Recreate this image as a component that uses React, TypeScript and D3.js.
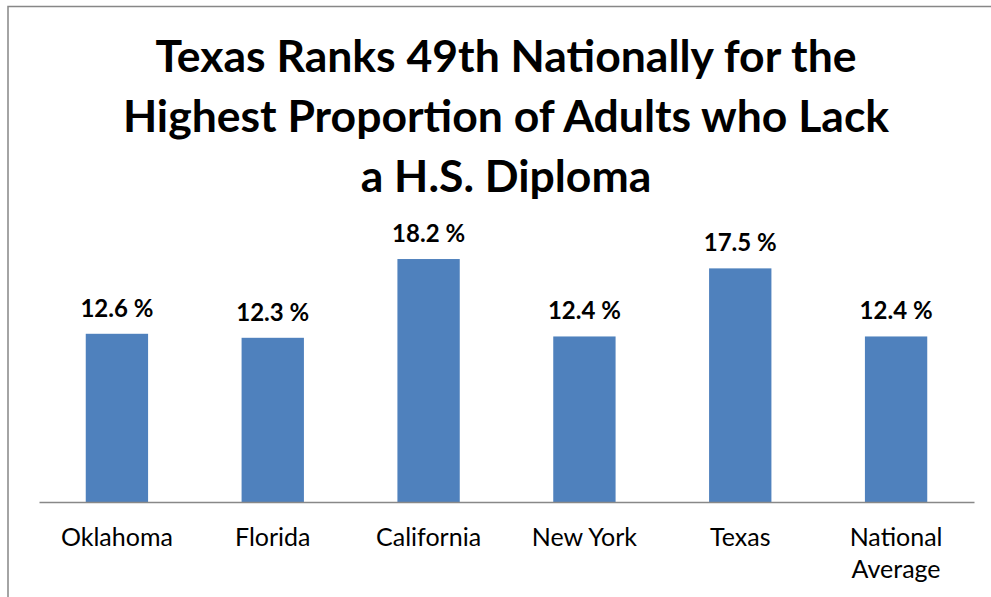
import React, { useEffect, useRef } from "react";
import * as d3 from "d3";

const categories = ["Oklahoma", "Florida", "California", "New York", "Texas", "National Average"];
const values = [12.6, 12.3, 18.2, 12.4, 17.5, 12.4];
const titleLines = [
  "Texas Ranks 49th Nationally for the",
  "Highest Proportion of Adults who Lack",
  "a H.S. Diploma",
];

const width = 991;
const height = 597;
const margin = { top: 235, right: 17, bottom: 95, left: 39 };
const font = "Lato, Carlito, Calibri, sans-serif";

const App = () => {
  const svgRef = useRef<SVGSVGElement>(null);

  useEffect(() => {
    const svg = d3.select(svgRef.current);
    svg.selectAll("*").remove();

    const x = d3
      .scaleBand()
      .domain(categories)
      .range([margin.left, width - margin.right])
      .paddingInner(0.6)
      .paddingOuter(0.3);

    const y = d3
      .scaleLinear()
      .domain([0, 20])
      .range([height - margin.bottom, margin.top]);

    // chart frame (cropped on right and bottom)
    svg
      .append("rect")
      .attr("x", 8)
      .attr("y", 6.5)
      .attr("width", 1200)
      .attr("height", 1200)
      .attr("fill", "white")
      .attr("stroke", "#878787")
      .attr("stroke-width", 1.5);

    // title
    svg
      .append("g")
      .selectAll("text")
      .data(titleLines)
      .join("text")
      .attr("x", 506)
      .attr("y", (d, i) => 72 + i * 60)
      .attr("text-anchor", "middle")
      .attr("font-family", font)
      .attr("font-weight", "bold")
      .attr("font-size", 44.5)
      .attr("fill", "#000")
      .text(d => d);

    // bars
    svg
      .selectAll(".bar")
      .data(values)
      .join("rect")
      .attr("class", "bar")
      .attr("x", (d, i) => x(categories[i]))
      .attr("y", d => y(d))
      .attr("width", x.bandwidth())
      .attr("height", d => y(0) - y(d))
      .attr("fill", "#4F81BD");

    // value labels
    svg
      .selectAll(".val")
      .data(values)
      .join("text")
      .attr("class", "val")
      .attr("x", (d, i) => x(categories[i]) + x.bandwidth() / 2)
      .attr("y", d => y(d) - 17)
      .attr("text-anchor", "middle")
      .attr("font-family", font)
      .attr("font-weight", "bold")
      .attr("font-size", 24)
      .attr("fill", "#000")
      .text(d => `${d.toFixed(1)} %`);

    // x axis
    const xAxis = d3.axisBottom(x).tickSize(0).tickPadding(0).tickFormat(() => "");
    const axisG = svg
      .append("g")
      .attr("transform", `translate(0,${y(0)})`)
      .call(xAxis);
    axisG.select(".domain").attr("stroke", "#888").attr("stroke-width", 1.5);

    // category labels, wrapped like the original
    const cats = svg
      .selectAll(".cat")
      .data(categories)
      .join("text")
      .attr("class", "cat")
      .attr("text-anchor", "middle")
      .attr("font-family", font)
      .attr("font-size", 25)
      .attr("fill", "#000");
    cats.each(function (d) {
      const words = d === "National Average" ? ["National", "Average"] : [d];
      d3.select(this)
        .selectAll("tspan")
        .data(words)
        .join("tspan")
        .attr("x", x(d) + x.bandwidth() / 2)
        .attr("y", (w, i) => y(0) + 44 + i * 32)
        .text(w => w);
    });
  }, []);

  return (
    <svg
      ref={svgRef}
      width={width}
      height={height}
      style={{ position: "absolute", left: 0, top: 0, background: "white" }}
    />
  );
};

export default App;
